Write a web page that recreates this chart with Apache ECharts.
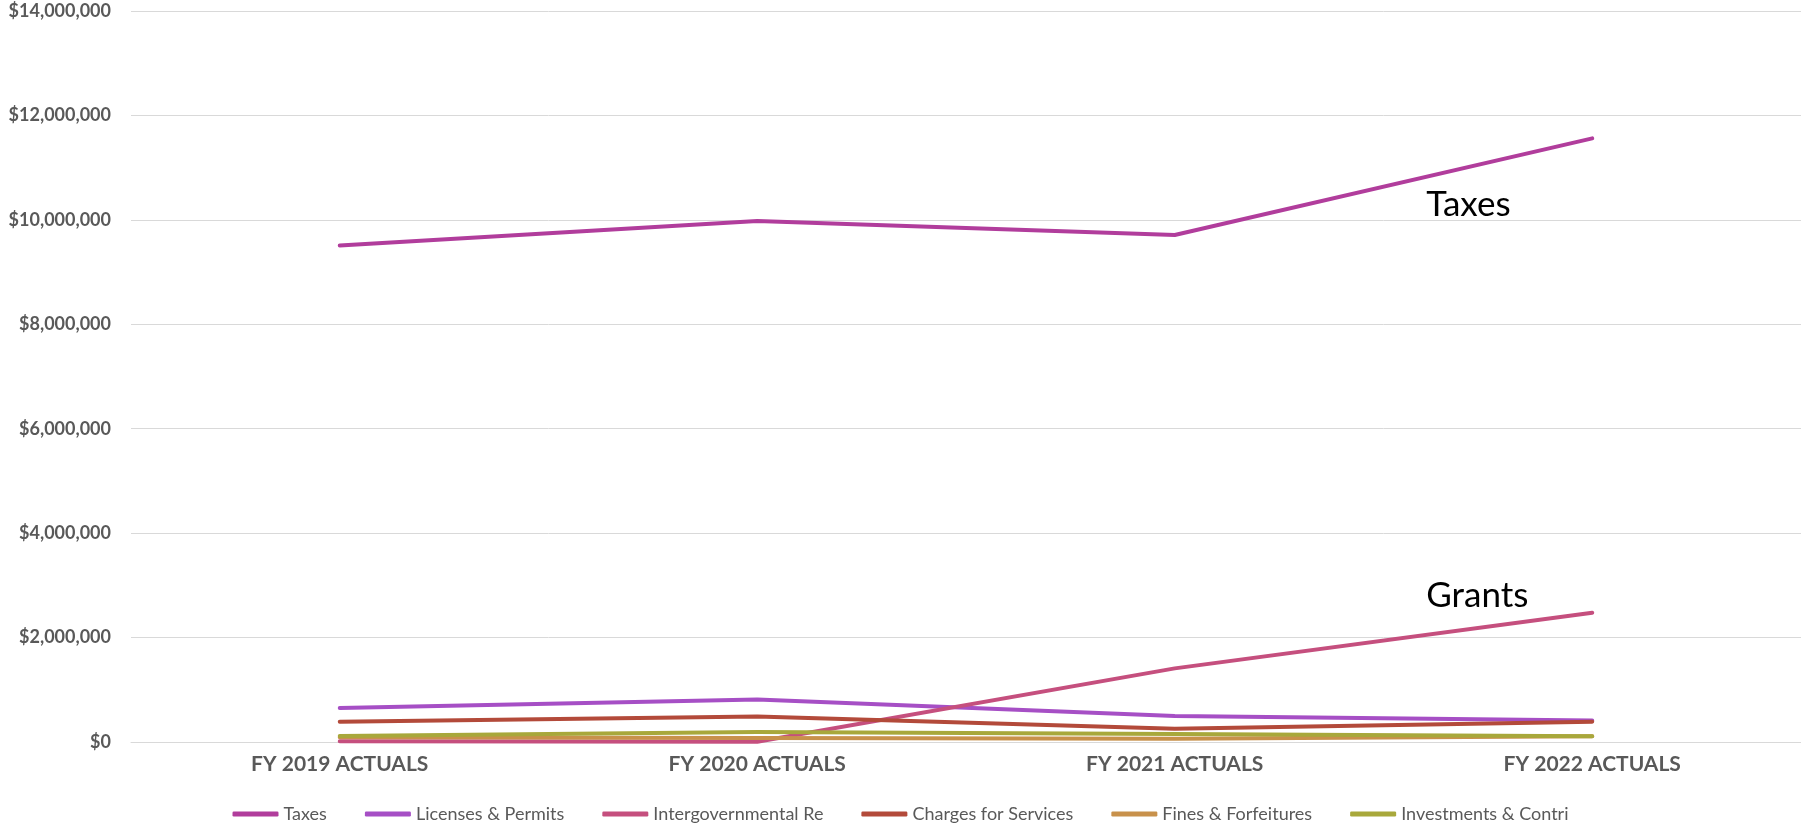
<!DOCTYPE html>
<html>
<head>
<meta charset="utf-8">
<script src="https://cdn.jsdelivr.net/npm/echarts@6/dist/echarts.min.js"></script>
<style>
  html, body { margin: 0; padding: 0; background: #fff; }
  #report-chart { width: 1801px; height: 824px; }
</style>
</head>
<body>
<div id="report-chart"></div>
<script>
var years = ['FY 2019 ACTUALS', 'FY 2020 ACTUALS', 'FY 2021 ACTUALS', 'FY 2022 ACTUALS'];

var taxes = [9510000, 9980000, 9710000, 11560000];
var licenses = [650000, 815000, 500000, 410000];
var intergov = [15000, 5000, 1410000, 2475000];
var charges = [390000, 490000, 255000, 390000];
var fines = [90000, 77000, 60000, 110000];
var investments = [115000, 190000, 155000, 110000];

var seriesNames = ['Taxes', 'Licenses & Permits', 'Intergovernmental Re', 'Charges for Services', 'Fines & Forfeitures', 'Investments & Contri'];
var colors = ['#B13D9C', '#A64FC5', '#C54F7E', '#B34A3A', '#C8914B', '#A8A83B'];

var chartDom = document.getElementById('report-chart');
var myChart = echarts.init(chartDom);
var option;

function lineSeries(idx, data, extra) {
    var s = {
        name: seriesNames[idx],
        type: 'line',
        data: data,
        symbol: 'none',
        color: colors[idx],
        lineStyle: { width: 4, cap: 'round', join: 'round' },
        animation: false
    };
    return Object.assign(s, extra || {});
}

// big annotation labels next to the last point
function endText(text, offset) {
    return {
        endLabel: {
            show: true,
            formatter: text,
            color: '#000',
            fontFamily: 'Lato',
            fontSize: 35,
            offset: offset
        }
    };
}

option = {
    textStyle: { fontFamily: 'Lato' },
    grid: {
        left: 131,
        right: 0,
        top: 11,
        bottom: 82
    },
    legend: {
        left: 'center',
        top: 800,
        icon: 'roundRect',
        itemWidth: 46,
        itemHeight: 5,
        itemGap: 38,
        textStyle: { color: '#595959', fontSize: 18, fontFamily: 'Lato' },
        data: seriesNames
    },
    xAxis: {
        type: 'category',
        data: years,
        axisLine: { lineStyle: { color: '#D9D9D9', width: 1 } },
        axisTick: { show: false },
        axisLabel: { color: '#595959', fontWeight: 'bold', fontSize: 21, margin: 12 }
    },
    yAxis: {
        type: 'value',
        min: 0,
        max: 14000000,
        interval: 2000000,
        axisLine: { show: false },
        axisTick: { show: false },
        splitLine: { lineStyle: { color: '#D9D9D9', width: 1 } },
        axisLabel: {
            color: '#595959',
            fontWeight: 'bold',
            fontSize: 18,
            margin: 20,
            formatter: function (v) { return '$' + v.toLocaleString('en-US'); }
        }
    },
    series: [
        lineSeries(0, taxes, endText('Taxes', [-174, 66])),
        lineSeries(1, licenses),
        lineSeries(2, intergov, endText('Grants', [-174, -17])),
        lineSeries(3, charges),
        lineSeries(4, fines),
        lineSeries(5, investments)
    ]
};
option && myChart.setOption(option);
</script>
</body>
</html>
